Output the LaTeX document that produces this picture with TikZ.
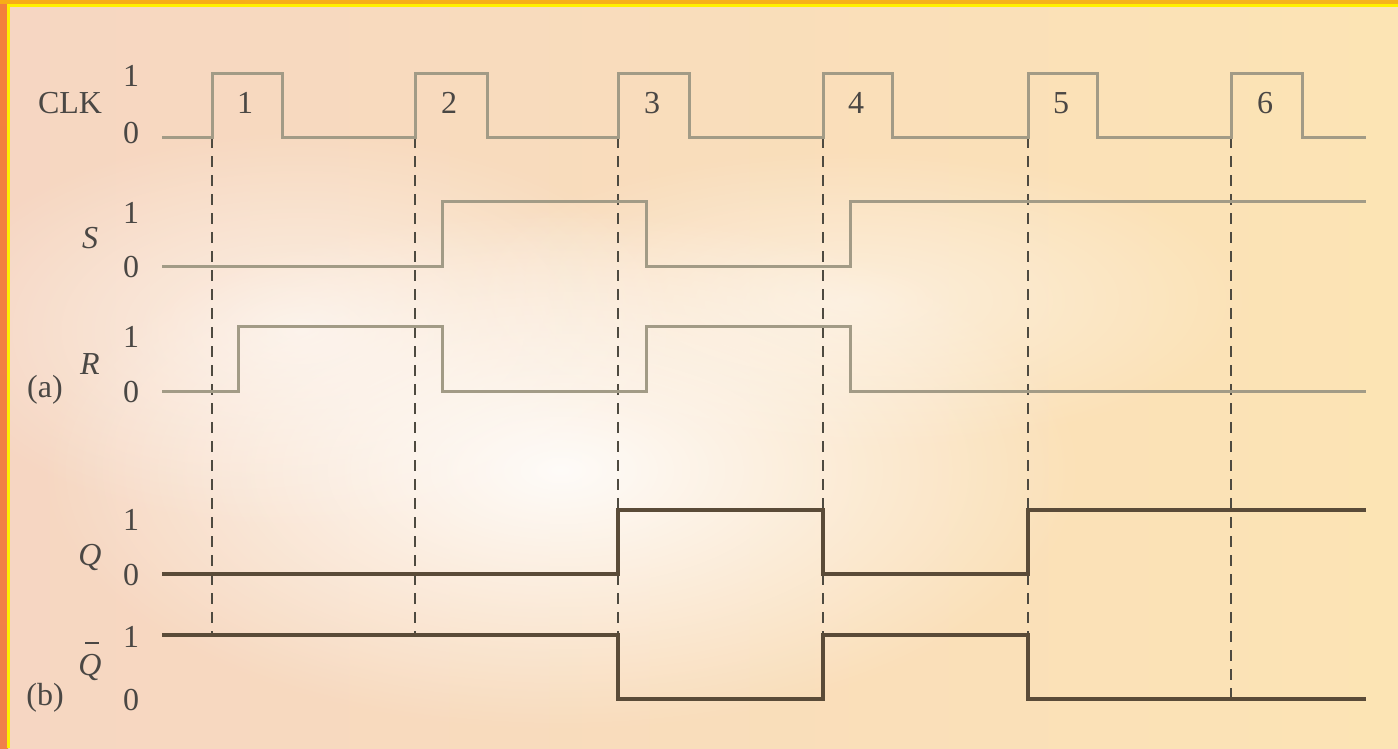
\documentclass[tikz,border=0pt]{standalone}
\usepackage{fontspec}
\setmainfont{Liberation Serif}
\usetikzlibrary{fadings}
\tikzfading[name=myglow, inner color=transparent!0, outer color=transparent!100]
\definecolor{bgleft}{HTML}{F6D6C2}
\definecolor{bgright}{HTML}{FCE4B4}
\definecolor{framey}{HTML}{FFF000}
\definecolor{edgeor}{HTML}{F0804A}
\definecolor{topor}{HTML}{F6B41C}
\definecolor{sigin}{HTML}{A29B86}
\definecolor{sigout}{HTML}{5A4B38}
\definecolor{dashc}{HTML}{4E4A40}
\definecolor{txt}{HTML}{4A4744}
\tikzset{
  insig/.style={draw=sigin, line width=3pt, line join=miter},
  outsig/.style={draw=sigout, line width=4pt, line join=miter},
  guide/.style={draw=dashc, line width=1.7pt, dash pattern=on 11pt off 8pt},
  lbl/.style={text=txt, font=\fontsize{32}{36}\selectfont, inner sep=0pt},
  glow/.style={fill=white, path fading=myglow}
}
\begin{document}
\begin{tikzpicture}[x=1pt,y=-1pt]
\useasboundingbox (0,0) rectangle (1398,748);
% background
\shade[left color=bgleft, right color=bgright] (0,0) rectangle (1398,748);
\fill[glow, opacity=0.9] (560,470) ellipse [x radius=520, y radius=260];
\fill[glow, opacity=0.6] (300,330) ellipse [x radius=380, y radius=200];
\fill[glow, opacity=0.5] (850,300) ellipse [x radius=400, y radius=150];
\shade[top color=edgeor!80!orange, bottom color=edgeor] (0,0) rectangle (8,748);
\shade[left color=topor!85!orange, right color=topor] (0,0) rectangle (1398,3.5);
\draw[framey, line width=3pt] (8.5,748) -- (8.5,5) -- (1398,5);
% guide lines
\foreach \x in {212,415} \draw[guide] (\x,137) -- (\x,635);
\foreach \x in {618,823,1028,1231} \draw[guide] (\x,137) -- (\x,699);
% input signals
\draw[insig] (162,137) -| (212,73) -| (282,137) -| (415,73) -| (487,137) -| (618,73) -| (689,137) -| (823,73) -| (892,137) -| (1028,73) -| (1097,137) -| (1231,73) -| (1302,137) -- (1366,137);
\draw[insig] (162,266) -| (442,201) -| (646,266) -| (850,201) -- (1366,201);
\draw[insig] (162,391) -| (238,326) -| (442,391) -| (646,326) -| (850,391) -- (1366,391);
% output signals
\draw[outsig] (162,574) -| (618,510) -| (823,574) -| (1028,510) -- (1366,510);
\draw[outsig] (162,635) -| (618,699) -| (823,635) -| (1028,699) -- (1366,699);
% pulse numbers
\foreach \n/\x in {1/245,2/449,3/652,4/856,5/1061,6/1265}
  \node[lbl] (p\n) at (\x,103) {\n};
% signal names
\node[lbl] (clk) at (70,103) {CLK};
\node[lbl] (s) at (90,238) {\textit{S}};
\node[lbl] (r) at (90,364) {\textit{R}};
\node[lbl] (q) at (90,557) {\textit{Q}};
\node[lbl] (qb) at (90,667) {\textit{Q}};
\draw[txt, line width=2pt] ([xshift=-5pt, yshift=11pt]qb.north) -- ([xshift=9pt, yshift=11pt]qb.north);
\node[lbl] (a) at (45,390) {(a)};
\node[lbl] (b) at (45,698) {(b)};
% levels
\foreach \nm/\y/\v in {c1/76/1,c0/133/0,s1/213/1,s0/267/0,r1/337/1,r0/392/0,q1/520/1,q0/575/0,b1/637/1,b0/700/0}
  \node[lbl] (\nm) at (131,\y) {\v};
\end{tikzpicture}
\end{document}
